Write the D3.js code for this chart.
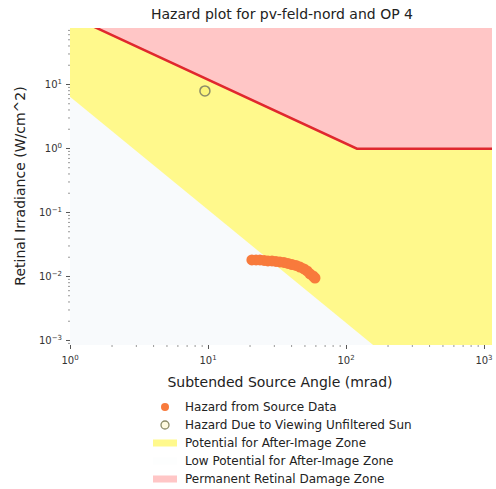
<!DOCTYPE html>
<html>
<head>
<meta charset="utf-8">
<script src="https://cdn.jsdelivr.net/npm/d3@7"></script>
<style>
	body { margin: 0; background: #fff; }
	svg { display: block; font-family: "DejaVu Sans", sans-serif; }
</style>
</head>
<body>
<svg id="chart"></svg>
<script>
// hazard from source data (subtended angle in mrad, retinal irradiance in W/cm^2)
const sourceAngle = [20.8, 22.3, 23.8, 25.5, 27.2, 29.1, 31.1, 33.2, 35.5, 38.0, 40.6, 43.4, 46.4, 49.6, 52.2, 54.8, 57.7, 59.6];
const sourceIrr = [0.0178, 0.0178, 0.0178, 0.0175, 0.0172, 0.0172, 0.0169, 0.0166, 0.0163, 0.0157, 0.0151, 0.0146, 0.0138, 0.0129, 0.0120, 0.0108, 0.0100, 0.0093];
// unfiltered sun
const sunAngle = [9.5];
const sunIrr = [7.8];
// permanent retinal damage threshold
const burnAngle = [1, 120, 1200];
const burnIrr = [117, 0.975, 0.975];
// after-image threshold (lower edge of yellow zone)
const afterAngle = [1, 160, 1200];
const afterIrr = [6.3, 0.00081, 0.00081];
// axis ticks
const xTicks = [1, 10, 100, 1000];
const xTickExp = ["0", "1", "2", "3"];
const yTicks = [0.001, 0.01, 0.1, 1, 10];
const yTickExp = ["\u22123", "\u22122", "\u22121", "0", "1"];
const legendLabels = [
	"Hazard from Source Data",
	"Hazard Due to Viewing Unfiltered Sun",
	"Potential for After-Image Zone",
	"Low Potential for After-Image Zone",
	"Permanent Retinal Damage Zone"
];

const params = {
		width: 496,
		height: 489,
		left: 70, right: 492, top: 28, bottom: 345,
		yellow: "#fff98c",
		pink: "#ffc6c6",
		low: "#f8fafc",
		red: "#e0282e",
		orange: "#f87a3c",
		sun_fill: "#fbf57a",
		sun_edge: "#8c8c68"
	},
	svg = d3.select("#chart").attr("width", params.width).attr("height", params.height);

const x = d3.scaleLog().domain([1, 1143]).range([params.left, params.right]),
	y = d3.scaleLog().domain([0.000835, 75]).range([params.bottom, params.top]);

svg.append("clipPath").attr("id", "plot-clip")
	.append("rect")
	.attr("x", params.left).attr("y", params.top)
	.attr("width", params.right - params.left).attr("height", params.bottom - params.top);

const plot = svg.append("g").attr("clip-path", "url(#plot-clip)");

// low potential background
plot.append("rect")
	.attr("x", params.left).attr("y", params.top)
	.attr("width", params.right - params.left).attr("height", params.bottom - params.top)
	.attr("fill", params.low);

// zones are filled from their threshold line up to the top of the plot
function zone(angles, irr, color) {
	const area = d3.area()
		.x(d => x(d[0]))
		.y0(params.top - 5)
		.y1(d => y(d[1]));
	plot.append("path")
		.datum(angles.map((a, i) => [a, irr[i]]))
		.attr("d", area)
		.attr("fill", color);
}
zone(afterAngle, afterIrr, params.yellow);
zone(burnAngle, burnIrr, params.pink);

plot.append("path")
	.datum(burnAngle.map((a, i) => [a, burnIrr[i]]))
	.attr("d", d3.line().x(d => x(d[0])).y(d => y(d[1])))
	.attr("fill", "none")
	.attr("stroke", params.red)
	.attr("stroke-width", 2.5);

plot.selectAll("circle.src")
	.data(sourceAngle.map((a, i) => [a, sourceIrr[i]]))
	.join("circle")
	.attr("class", "src")
	.attr("cx", d => x(d[0]))
	.attr("cy", d => y(d[1]))
	.attr("r", 5.5)
	.attr("fill", params.orange);

plot.selectAll("circle.sun")
	.data(sunAngle.map((a, i) => [a, sunIrr[i]]))
	.join("circle")
	.attr("class", "sun")
	.attr("cx", d => x(d[0]))
	.attr("cy", d => y(d[1]))
	.attr("r", 5)
	.attr("fill", params.sun_fill)
	.attr("stroke", params.sun_edge)
	.attr("stroke-width", 1.5);

// minor ticks (dots) and major ticks
const xAxis = svg.append("g")
	.attr("transform", `translate(0,${params.bottom})`)
	.call(d3.axisBottom(x).tickValues(x.ticks()).tickSize(2).tickFormat(""));
const yAxis = svg.append("g")
	.attr("transform", `translate(${params.left},0)`)
	.call(d3.axisLeft(y).tickValues(y.ticks()).tickSize(2).tickFormat(""));
[xAxis, yAxis].forEach(g => {
	g.select(".domain").remove();
	g.selectAll(".tick line").attr("stroke", "#999").attr("stroke-width", 1);
});
xAxis.selectAll(".tick").filter(d => xTicks.includes(d)).select("line")
	.attr("y2", 4).attr("stroke", "#555");
yAxis.selectAll(".tick").filter(d => yTicks.some(t => Math.abs(t - d) / t < 1e-6)).select("line")
	.attr("x2", -4).attr("stroke", "#555");

// tick labels with superscript exponents
xTicks.forEach((t, i) => {
	const txt = svg.append("text")
		.attr("x", x(t)).attr("y", 364)
		.attr("text-anchor", "middle")
		.attr("font-size", 10).attr("fill", "#333");
	txt.append("tspan").text("10");
	txt.append("tspan").attr("dy", -4).attr("font-size", 7).text(xTickExp[i]);
});
yTicks.forEach((t, i) => {
	const txt = svg.append("text")
		.attr("x", 62).attr("y", y(t) + 4)
		.attr("text-anchor", "end")
		.attr("font-size", 10).attr("fill", "#333");
	txt.append("tspan").text("10");
	txt.append("tspan").attr("dy", -4).attr("font-size", 7).text(yTickExp[i]);
});

// titles
svg.append("text")
	.attr("x", 282).attr("y", 19)
	.attr("text-anchor", "middle")
	.attr("font-size", 14).attr("fill", "#222")
	.text("Hazard plot for pv-feld-nord and OP 4");
svg.append("text")
	.attr("x", 280).attr("y", 387)
	.attr("text-anchor", "middle")
	.attr("font-size", 14).attr("fill", "#222")
	.text("Subtended Source Angle (mrad)");
svg.append("text")
	.attr("transform", "translate(25,186) rotate(-90)")
	.attr("text-anchor", "middle")
	.attr("font-size", 14).attr("fill", "#222")
	.text("Retinal Irradiance (W/cm^2)");

// legend
const legend = svg.append("g");
const rowY = d3.scaleLinear().domain([0, legendLabels.length - 1]).range([407, 479]);
legendLabels.forEach((label, i) => {
	const ly = rowY(i);
	if (i === 0) {
		legend.append("circle").attr("cx", 165).attr("cy", ly).attr("r", 4).attr("fill", params.orange);
	} else if (i === 1) {
		legend.append("circle").attr("cx", 165).attr("cy", ly).attr("r", 4)
			.attr("fill", "#fffbe0").attr("stroke", params.sun_edge).attr("stroke-width", 1.3);
	} else {
		const col = [params.yellow, "#fdfefe", params.pink][i - 2];
		legend.append("rect").attr("x", 153).attr("y", ly - 3.5).attr("width", 24).attr("height", 7).attr("fill", col);
	}
	legend.append("text")
		.attr("x", 185).attr("y", ly).attr("dy", "0.35em")
		.attr("font-size", 12).attr("fill", "#222")
		.text(label);
});
</script>
</body>
</html>
